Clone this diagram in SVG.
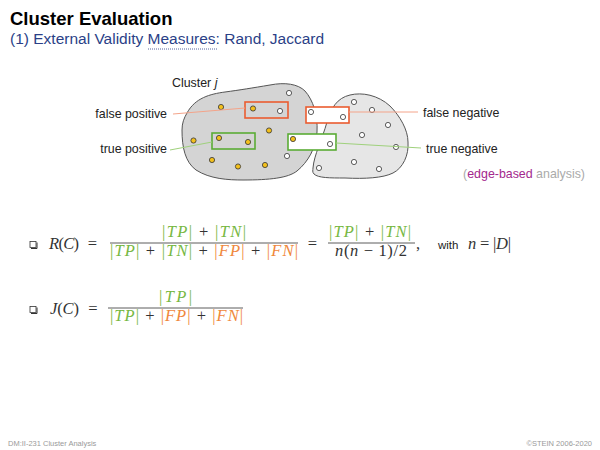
<svg xmlns="http://www.w3.org/2000/svg" width="600" height="450" viewBox="0 0 600 450">
<style>
.sans{font-family:"Liberation Sans",Arial,sans-serif}
.lbl{font-family:"Liberation Sans",Arial,sans-serif;font-size:12.4px;fill:#222}
.m{font-family:"Liberation Serif","Times New Roman",serif;font-size:16.5px;fill:#333}
.i{font-style:italic}
.g{fill:#77b843}
.o{fill:#f0883c}
.bar{stroke:#333;stroke-width:0.8}
.blob{stroke:#555;stroke-width:1}
.y{fill:#f3c01c;stroke:#333;stroke-width:0.8}
.w{fill:#fff;stroke:#333;stroke-width:0.8}
.rb{fill:none;stroke:#ea5c30;stroke-width:1.6}
.gb{fill:none;stroke:#5aac35;stroke-width:1.6}
.foot{font-family:"Liberation Sans",Arial,sans-serif;font-size:7.5px;fill:#9a9a9a}
.bul{fill:#fff;stroke:#333;stroke-width:0.8}
</style>
<rect width="600" height="450" fill="#fff"/>

<g id="title">
<text class="sans" x="10" y="25" font-size="18.5" font-weight="bold" fill="#000">Cluster Evaluation</text>
<text class="sans" x="10" y="44" font-size="15.5" fill="#2b3f87">(1) External Validity Measures: Rand, Jaccard</text>
<line x1="148" y1="49" x2="218" y2="49" stroke="#2b3f87" stroke-width="0.8" stroke-dasharray="1 1"/>
</g>

<g id="cluster-j">
<path class="blob" fill="#d4d4d4" d="M187,113 C195,98 210,94 225,92 C240,90 252,88 270,85 C285,82 298,84 305,91 C313,100 318,115 317,132 C316,148 308,162 297,171 C288,178 270,180 243,180 C228,180 210,179 196,170 C185,162 182,147 182,130 C182,123 184,118 187,113 Z"/>
<text class="lbl" x="172" y="87">Cluster <tspan font-style="italic">j</tspan></text>
</g>

<g id="cluster-other">
<path class="blob" fill="#e6e6e6" d="M313,168 C314,155 322,140 327,122 C331,108 337,98 350,95 C362,92 378,95 390,106 C400,116 408,130 408,142 C409,155 403,168 393,173 C383,178 365,179 345,178 C330,178 318,178 314,174 C312,172 313,170 313,168 Z"/>
</g>

<g id="pair-boxes">
<rect x="306" y="107" width="43" height="16" fill="#fff"/>
<rect x="288" y="134" width="48" height="16" fill="#fff"/>
<rect class="rb" x="245" y="102" width="43" height="16"/>
<rect class="rb" x="306" y="107" width="43" height="16"/>
<rect class="gb" x="212" y="133" width="43" height="16"/>
<rect class="gb" x="288" y="134" width="48" height="16"/>
</g>

<g id="points">
<circle class="y" cx="221" cy="107" r="2.6"/>
<circle class="y" cx="253" cy="108.5" r="2.6"/>
<circle class="y" cx="269" cy="130.5" r="2.6"/>
<circle class="y" cx="193.5" cy="140.5" r="2.6"/>
<circle class="y" cx="219" cy="138" r="2.6"/>
<circle class="y" cx="248" cy="142" r="2.6"/>
<circle class="y" cx="212" cy="160" r="2.6"/>
<circle class="y" cx="238" cy="166.5" r="2.6"/>
<circle class="y" cx="265" cy="165" r="2.6"/>
<circle class="y" cx="293" cy="139" r="2.6"/>
<circle class="w" cx="289" cy="93" r="2.6"/>
<circle class="w" cx="280" cy="111" r="2.6"/>
<circle class="w" cx="311" cy="112" r="2.6"/>
<circle class="w" cx="343" cy="117" r="2.6"/>
<circle class="w" cx="287" cy="156" r="2.6"/>
<circle class="w" cx="330" cy="144" r="2.6"/>
<circle class="w" cx="354" cy="102" r="2.6"/>
<circle class="w" cx="372" cy="110" r="2.6"/>
<circle class="w" cx="388" cy="125" r="2.6"/>
<circle class="w" cx="362" cy="135" r="2.6"/>
<circle class="w" cx="396" cy="147" r="2.6"/>
<circle class="w" cx="319" cy="168" r="2.6"/>
<circle class="w" cx="354" cy="162" r="2.6"/>
<circle class="w" cx="379" cy="169" r="2.6"/>
</g>

<g id="connectors">
<line x1="173" y1="114" x2="245" y2="108" stroke="#f4a48a" stroke-width="1"/>
<line x1="170" y1="150" x2="212" y2="142" stroke="#9fd17c" stroke-width="1"/>
<line x1="349" y1="112" x2="418" y2="112" stroke="#f4a48a" stroke-width="1"/>
<line x1="336" y1="143" x2="421" y2="148" stroke="#9fd17c" stroke-width="1"/>
</g>

<g id="label-fp"><text class="lbl" x="167" y="118" text-anchor="end">false positive</text></g>
<g id="label-tp"><text class="lbl" x="167" y="153" text-anchor="end">true positive</text></g>
<g id="label-fn"><text class="lbl" x="423" y="117">false negative</text></g>
<g id="label-tn"><text class="lbl" x="426" y="153">true negative</text></g>
<g id="label-edge"><text class="lbl" x="585" y="178" text-anchor="end" fill="#aaa"><tspan fill="#aaa">(</tspan><tspan fill="#a3288d">edge-based</tspan><tspan fill="#aaa"> analysis)</tspan></text></g>

<g id="formula-rand">
<rect class="bul" x="30" y="241.5" width="6" height="6"/>
<polyline points="31,248.5 37,248.5 37,242.5" fill="none" stroke="#333" stroke-width="1"/>
<text class="m" x="49" y="249" textLength="30" lengthAdjust="spacing"><tspan class="i">R</tspan>(<tspan class="i">C</tspan>)</text>
<text class="m" x="92.5" y="249" text-anchor="middle">=</text>
<text class="m" x="162" y="237" textLength="84" lengthAdjust="spacing"><tspan class="g">|<tspan class="i">TP</tspan>|</tspan> + <tspan class="g">|<tspan class="i">TN</tspan>|</tspan></text>
<line class="bar" x1="110" y1="243" x2="298" y2="243"/>
<text class="m" x="110" y="256" textLength="188" lengthAdjust="spacing"><tspan class="g">|<tspan class="i">TP</tspan>|</tspan> + <tspan class="g">|<tspan class="i">TN</tspan>|</tspan> + <tspan class="o">|<tspan class="i">FP</tspan>|</tspan> + <tspan class="o">|<tspan class="i">FN</tspan>|</tspan></text>
<text class="m" x="312.5" y="249" text-anchor="middle">=</text>
<text class="m" x="329" y="237" textLength="82" lengthAdjust="spacing"><tspan class="g">|<tspan class="i">TP</tspan>|</tspan> + <tspan class="g">|<tspan class="i">TN</tspan>|</tspan></text>
<line class="bar" x1="328" y1="243" x2="415" y2="243"/>
<text class="m" x="335" y="256" textLength="72" lengthAdjust="spacing"><tspan class="i">n</tspan>(<tspan class="i">n</tspan> − 1)/2</text>
<text class="m" x="416" y="249">,</text>
<text class="sans" x="438" y="249" font-size="11.5" fill="#222">with</text>
<text class="m" x="468" y="249" textLength="43" lengthAdjust="spacing"><tspan class="i">n</tspan> = |<tspan class="i">D</tspan>|</text>
</g>

<g id="formula-jaccard">
<rect class="bul" x="30" y="306.5" width="6" height="6"/>
<polyline points="31,313.5 37,313.5 37,307.5" fill="none" stroke="#333" stroke-width="1"/>
<text class="m" x="50" y="314" textLength="29" lengthAdjust="spacing"><tspan class="i">J</tspan>(<tspan class="i">C</tspan>)</text>
<text class="m" x="93" y="314" text-anchor="middle">=</text>
<text class="m" x="159" y="302" textLength="33" lengthAdjust="spacing"><tspan class="g">|<tspan class="i">TP</tspan>|</tspan></text>
<line class="bar" x1="108" y1="308" x2="243" y2="308"/>
<text class="m" x="110" y="321" textLength="133" lengthAdjust="spacing"><tspan class="g">|<tspan class="i">TP</tspan>|</tspan> + <tspan class="o">|<tspan class="i">FP</tspan>|</tspan> + <tspan class="o">|<tspan class="i">FN</tspan>|</tspan></text>
</g>

<g id="footer">
<text class="foot" x="8" y="446">DM:II-231<tspan x="43">Cluster Analysis</tspan></text>
<text class="foot" x="592" y="446" text-anchor="end">©STEIN 2006-2020</text>
</g>
</svg>
